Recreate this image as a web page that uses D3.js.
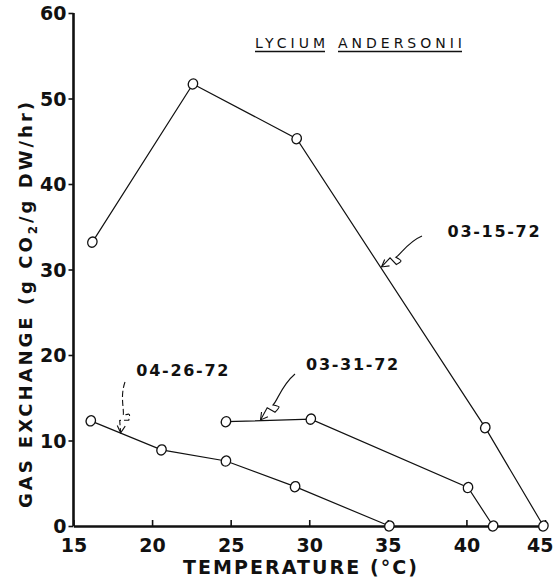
<!DOCTYPE html>
<html>
<head>
<meta charset="utf-8">
<script src="https://cdn.jsdelivr.net/npm/d3@7"></script>
<style>
  html, body { margin: 0; padding: 0; background: #fff; }
  svg text { font-family: "DejaVu Sans", "Lato", sans-serif; fill: #111; }
</style>
</head>
<body>
<svg id="chart" width="554" height="580"></svg>
<script>
// Gas exchange of Lycium andersonii vs. leaf temperature, three sampling dates
const xTicks = [15, 20, 25, 30, 35, 40, 45];
const yTicks = [0, 10, 20, 30, 40, 50, 60];

const temp0315 = [16.2, 22.6, 29.2, 41.2, 44.9];
const gas0315  = [33.2, 51.7, 45.3, 11.5, 0];

const temp0331 = [24.7, 30.1, 40.1, 41.7];
const gas0331  = [12.2, 12.5, 4.5, 0];

const temp0426 = [16.1, 20.6, 24.7, 29.1, 35.1];
const gas0426  = [12.3, 8.9, 7.6, 4.6, 0];

const seriesNames = ["03-15-72", "03-31-72", "04-26-72"];
// label anchor (data units) and arrow tip (data units) per series
const labelAt = [[38.8, 33.8], [29.8, 18.3], [19.0, 17.6]];
const arrowTip = [[34.6, 30.3], [26.9, 12.4], [18.0, 10.9]];

const svg = d3.select("#chart");
const x = d3.scaleLinear([15, 45], [73.5, 545]);
const y = d3.scaleLinear([0, 60], [526, 13]);

// axes
const yAxis = svg.append("g").attr("transform", `translate(${x(15)},0)`)
  .call(d3.axisLeft(y).tickValues(yTicks).tickSize(5).tickPadding(2).tickFormat(d3.format("d")));
const xAxis = svg.append("g").attr("transform", `translate(0,${y(0)})`)
  .call(d3.axisBottom(x).tickValues(xTicks).tickSizeInner(-6).tickSizeOuter(0).tickPadding(13).tickFormat(d3.format("d")));
[yAxis, xAxis].forEach(g => {
  g.select(".domain").attr("stroke", "#111").attr("stroke-width", 2.6);
  g.selectAll(".tick line").attr("stroke", "#111").attr("stroke-width", 1.6);
  g.selectAll(".tick text").attr("font-size", 19).attr("font-weight", "bold")
    .style("font-family", "'DejaVu Sans', sans-serif").attr("fill", "#111");
});
yAxis.select(".domain").attr("d", `M0,${y(0)}V${y(60)}`);
yAxis.selectAll(".tick text").attr("dy", "0.36em");
// keep the last x label inside the frame
xAxis.selectAll(".tick text").filter(d => d === 45)
  .attr("text-anchor", "end").attr("x", 8);

// axis titles
svg.append("text").attr("x", 183).attr("y", 574)
  .attr("font-size", 19).attr("font-weight", "bold")
  .attr("textLength", 234).attr("lengthAdjust", "spacing")
  .text("TEMPERATURE (°C)");

const yt = svg.append("text")
  .attr("transform", "translate(32,508) rotate(-90)")
  .attr("font-size", 18).attr("font-weight", "bold")
  .attr("textLength", 406).attr("lengthAdjust", "spacing");
yt.append("tspan").text("GAS EXCHANGE (g CO");
yt.append("tspan").attr("font-size", 12).attr("dy", 5).text("2");
yt.append("tspan").attr("dy", -5).text("/g DW/hr)");

// species title with separately underlined words
const titleWords = [["LYCIUM", 255, 70], ["ANDERSONII", 338, 124]];
titleWords.forEach(([w, x0, len]) => {
  svg.append("text").attr("x", x0).attr("y", 48)
    .attr("font-size", 14).attr("textLength", len).attr("lengthAdjust", "spacing")
    .text(w);
  svg.append("line").attr("x1", x0).attr("x2", x0 + len).attr("y1", 51.5).attr("y2", 51.5)
    .attr("stroke", "#111").attr("stroke-width", 1.4);
});

// series lines and open circle markers
const series = [
  d3.zip(temp0315, gas0315),
  d3.zip(temp0331, gas0331),
  d3.zip(temp0426, gas0426)
];
const line = d3.line().x(d => x(d[0])).y(d => y(d[1]));
series.forEach(pts => {
  svg.append("path").attr("d", line(pts)).attr("fill", "none")
    .attr("stroke", "#111").attr("stroke-width", 1.2);
  svg.selectAll(null).data(pts).enter().append("ellipse")
    .attr("cx", d => x(d[0])).attr("cy", d => y(d[1]))
    .attr("rx", 4.6).attr("ry", 5.2)
    .attr("transform", d => `rotate(25,${x(d[0])},${y(d[1])})`)
    .attr("fill", "#fff").attr("stroke", "#111").attr("stroke-width", 1.3);
});

// series labels
seriesNames.forEach((name, i) => {
  const lx = x(labelAt[i][0]), ly = y(labelAt[i][1]);
  svg.append("text").attr("x", lx).attr("y", ly)
    .attr("font-size", 16).attr("font-weight", "bold")
    .attr("textLength", 92).attr("lengthAdjust", "spacing")
    .text(name);
});

// hand-drawn squiggle arrow from a label to its line
function squiggle(sx, sy, tx, ty, dashed) {
  const dx = tx - sx, dy = ty - sy;
  const L = Math.hypot(dx, dy), ux = dx / L, uy = dy / L;
  const nx = -uy, ny = ux;
  const at = (t, o) => [sx + dx * t + nx * o, sy + dy * t + ny * o];
  const p = d3.path();
  p.moveTo(sx, sy);
  const a = at(0.3, 4), b = at(0.55, -2), c = at(0.66, -1);
  p.bezierCurveTo(a[0], a[1], b[0], b[1], c[0], c[1]);
  const z1 = at(0.60, -8), z2 = at(0.74, -7), z3 = at(0.76, 2);
  p.bezierCurveTo(z1[0], z1[1], z1[0], z1[1], z2[0], z2[1]);
  p.lineTo(z3[0], z3[1]);
  p.lineTo(tx, ty);
  svg.append("path").attr("d", p.toString()).attr("fill", "none")
    .attr("stroke", "#111").attr("stroke-width", 1.1)
    .attr("stroke-dasharray", dashed ? "6,3" : null);
  const h = 7, w = 4;
  const h1 = [tx - ux * h + nx * w, ty - uy * h + ny * w];
  const h2 = [tx - ux * h - nx * w, ty - uy * h - ny * w];
  svg.append("path").attr("d", `M${h1[0]},${h1[1]}L${tx},${ty}L${h2[0]},${h2[1]}`)
    .attr("fill", "none").attr("stroke", "#111").attr("stroke-width", 1.1);
}
const arrowStart = [[422, 236], [295, 374], [125, 382]];
seriesNames.forEach((n, i) => {
  squiggle(arrowStart[i][0], arrowStart[i][1], x(arrowTip[i][0]), y(arrowTip[i][1]), i === 2);
});
</script>
</body>
</html>
